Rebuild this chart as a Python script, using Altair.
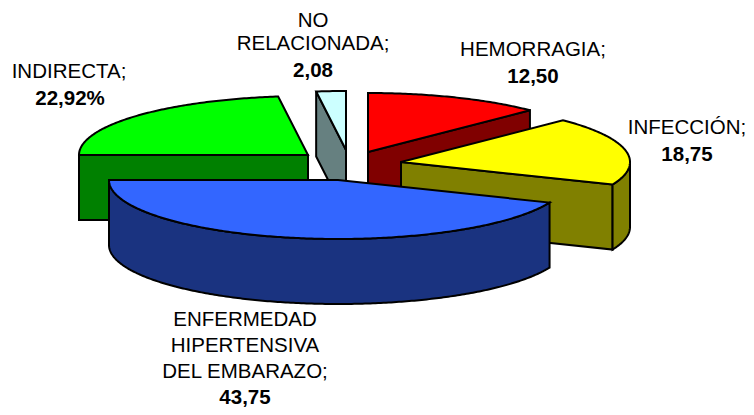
import math
import altair as alt
import pandas as pd

# ---- chart values ----
categories = ["HEMORRAGIA", "INFECCIÓN", "ENFERMEDAD HIPERTENSIVA DEL EMBARAZO", "INDIRECTA", "NO RELACIONADA"]
values = [12.50, 18.75, 43.75, 22.92, 2.08]
label_lines = [
    ["HEMORRAGIA;"],
    ["INFECCIÓN;"],
    ["ENFERMEDAD", "HIPERTENSIVA", "DEL EMBARAZO;"],
    ["INDIRECTA;"],
    ["NO", "RELACIONADA;"],
]
value_labels = ["12,50", "18,75", "43,75", "22,92%", "2,08"]

# ---- drawing geometry and style (not data) ----
W, H = 738, 399
RX, RY, DEPTH = 229, 59, 65
apex = [(368, 152), (401, 162), (338, 180), (308, 155), (346, 150)]
top_col = ["#FF0000", "#FFFF00", "#3366FF", "#00FF00", "#CCFFFF"]
side_col = ["#800000", "#808000", "#1A3380", "#008000", "#668080"]
label_x = [533, 687, 245, 69, 313]
label_y = [[50, 77], [128, 155], [320, 346, 372, 397.5], [72, 99], [21, 44, 71]]


def rim(i, a0, a1, dz=0):
    n = max(2, int(abs(a1 - a0) * 1.5))
    cx, cy = apex[i]
    out = []
    for k in range(n + 1):
        t = math.radians(a0 + (a1 - a0) * k / n)
        out.append((cx + RX * math.sin(t), cy - RY * math.cos(t) + dz))
    return out


bounds = [0.0]
for v in values:
    bounds.append(bounds[-1] + v * 3.6 * 100 / sum(values))

parts = []  # (points, fill) in paint order
for i in [3, 4, 0, 1, 2]:
    a0, a1 = bounds[i], bounds[i + 1]
    c = apex[i]
    # flat cut face that looks at the viewer
    if i != 2:
        edge = a0 if i in (3, 4) else a1
        p = rim(i, edge, edge)[0]
        parts.append(([p, c, (c[0], c[1] + DEPTH), (p[0], p[1] + DEPTH)], side_col[i]))
    # outer rim where it faces the viewer
    lo, hi = max(a0, 90), min(a1, 270)
    if hi > lo:
        parts.append((rim(i, lo, hi) + rim(i, hi, lo, DEPTH), side_col[i]))
    # top face
    parts.append(([c] + rim(i, a0, a1), top_col[i]))

xs = alt.Scale(domain=[8, 8 + W], range=[0, W])
ys = alt.Scale(domain=[8, 8 + H], range=[0, H])

layers = []
for idx, (pts, col) in enumerate(parts):
    df = pd.DataFrame({"x": [p[0] for p in pts], "y": [p[1] for p in pts], "o": range(len(pts))})
    layers.append(
        alt.Chart(df)
        .mark_line(interpolate="linear-closed", fill=col, stroke="black", strokeWidth=2, strokeJoin="miter", clip=False)
        .encode(
            x=alt.X("x:Q", scale=xs, axis=None),
            y=alt.Y("y:Q", scale=ys, axis=None),
            order="o:Q",
        )
    )

rows = []
for i, lines in enumerate(label_lines):
    x0 = label_x[i]
    for j, t in enumerate(lines):
        rows.append({"x": x0, "y": label_y[i][j], "t": t, "b": "normal"})
    rows.append({"x": x0 + (1 if i == 3 else 0), "y": label_y[i][len(lines)], "t": value_labels[i], "b": "bold"})
text_df = pd.DataFrame(rows)

for weight in ["normal", "bold"]:
    layers.append(
        alt.Chart(text_df[text_df.b == weight])
        .mark_text(font="Liberation Sans", fontSize=20.5, fontWeight=weight, color="black", align="center", baseline="middle")
        .encode(
            x=alt.X("x:Q", scale=xs, axis=None),
            y=alt.Y("y:Q", scale=ys, axis=None),
            text="t:N",
        )
    )

chart = (
    alt.layer(*layers)
    .properties(width=W, height=H, padding=0, autosize=alt.AutoSizeParams(type="none"), background="white")
    .configure_view(stroke=None)
)
chart.save("out.html", embed_options={"renderer": "svg", "actions": False})
